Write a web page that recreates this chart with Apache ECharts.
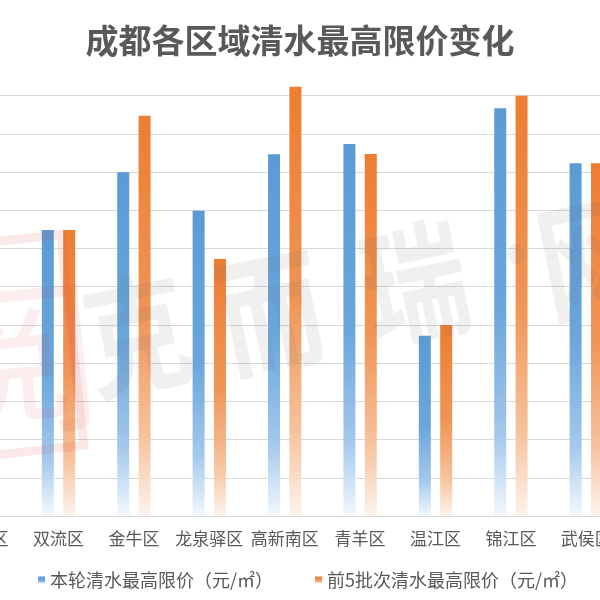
<!DOCTYPE html>
<html>
<head>
<meta charset="utf-8">
<script src="https://cdn.jsdelivr.net/npm/echarts@6/dist/echarts.min.js"></script>
<style>
  html, body { margin: 0; padding: 0; background: #fff; overflow: hidden; }
  /* the plot is wider than the window: the first and last districts are cut off */
  #chart { width: 720px; height: 600px; margin-left: -60px; }
</style>
</head>
<body>
<div id="chart"></div>
<script>
  // first district is cut off at the left edge, only its last character shows
  const districts = ['成华区', '双流区', '金牛区', '龙泉驿区', '高新南区', '青羊区', '温江区', '锦江区', '武侯区'];
  const currentPrice = [null, 14970, 17990, 15980, 18930, 19470, 9440, 21340, 18460];
  const previousPrice = [null, 14970, 20950, 13450, 22470, 18950, 10000, 22000, 18460];
  const seriesNames = ['本轮清水最高限价（元/㎡）', '前5批次清水最高限价（元/㎡）'];
  const watermarkChars = ['克', '而', '瑞', '·', '网'];

  const FONT = '"Noto Sans CJK SC", "Noto Sans", sans-serif';
  const TEXT = '#595959';
  const SHIFT = 60; // container starts 60px left of the window

  const fade = (top, mid, low, bottom) => new echarts.graphic.LinearGradient(0, 0, 0, 1, [
    { offset: 0, color: top },
    { offset: 0.5, color: mid },
    { offset: 0.8, color: low },
    { offset: 1, color: bottom },
  ]);

  const chart = echarts.init(document.getElementById('chart'), null, { renderer: 'canvas' });

  const legendBase = {
    icon: 'rect',
    itemWidth: 7,
    itemHeight: 7,
    top: 566,
    textStyle: { fontSize: 18, color: TEXT, fontFamily: FONT },
  };

  // watermark glyph anchors (bottom-left)
  const markX = [98, 232, 376, 492, 552];
  const markY = [408, 386, 356, 300, 330];
  const markSize = [128, 128, 128, 80, 128];
  const watermark = watermarkChars.map((ch, i) => ({
    type: 'text',
    x: SHIFT + markX[i],
    y: markY[i],
    rotation: 0.2,
    scaleX: 0.82,
    silent: true,
    z: 100,
    style: {
      text: ch,
      font: 'bold ' + markSize[i] + 'px ' + FONT,
      fill: 'rgba(110,110,110,0.1)',
      textVerticalAlign: 'bottom',
    },
  }));

  chart.setOption({
    animation: false,
    title: {
      text: '成都各区域清水最高限价变化',
      left: 'center',
      top: 19,
      textStyle: { fontSize: 33, fontWeight: 'bold', color: TEXT, fontFamily: FONT },
    },
    legend: [
      Object.assign({ data: [seriesNames[0]], left: SHIFT + 33 }, legendBase),
      Object.assign({ data: [seriesNames[1]], left: SHIFT + 310 }, legendBase),
    ],
    grid: { left: 5.4, right: 36, top: 76.6, bottom: 84 },
    xAxis: {
      type: 'category',
      data: districts,
      axisLine: { lineStyle: { color: '#d9d9d9', width: 1 } },
      axisTick: { show: false },
      axisLabel: { interval: 0, fontSize: 17, color: TEXT, margin: 14, fontFamily: FONT },
    },
    yAxis: {
      type: 'value',
      min: 0,
      max: 23000,
      interval: 2000,
      axisLine: { show: false },
      axisTick: { show: false },
      axisLabel: { show: false },
      splitLine: { showMaxLine: false, lineStyle: { color: '#d9d9d9', width: 1 } },
    },
    graphic: [
      {
        type: 'rect',
        silent: true,
        z: 100,
        x: SHIFT - 20, y: 352,
        rotation: 0.11,
        shape: { x: -115, y: -108, width: 208, height: 212 },
        style: { fill: 'none', stroke: 'rgba(220,70,70,0.12)', lineWidth: 9 },
      },
      {
        type: 'text',
        silent: true,
        z: 100,
        x: SHIFT - 62, y: 452,
        rotation: 0.1,
        style: { text: '阅', font: '170px ' + FONT, fill: 'rgba(220,70,70,0.09)', textVerticalAlign: 'bottom' },
      },
    ].concat(watermark),
    series: [
      {
        name: seriesNames[0],
        type: 'bar',
        barWidth: 12,
        barGap: '78%',
        data: currentPrice,
        itemStyle: { color: fade('#5b9bd5', '#6aa6dc', '#a3c8ec', '#f3f8fd') },
      },
      {
        name: seriesNames[1],
        type: 'bar',
        barWidth: 12,
        data: previousPrice,
        itemStyle: { color: fade('#ed7d31', '#f09556', '#f6c29c', '#fdf3ec') },
      },
    ],
  });
</script>
</body>
</html>
